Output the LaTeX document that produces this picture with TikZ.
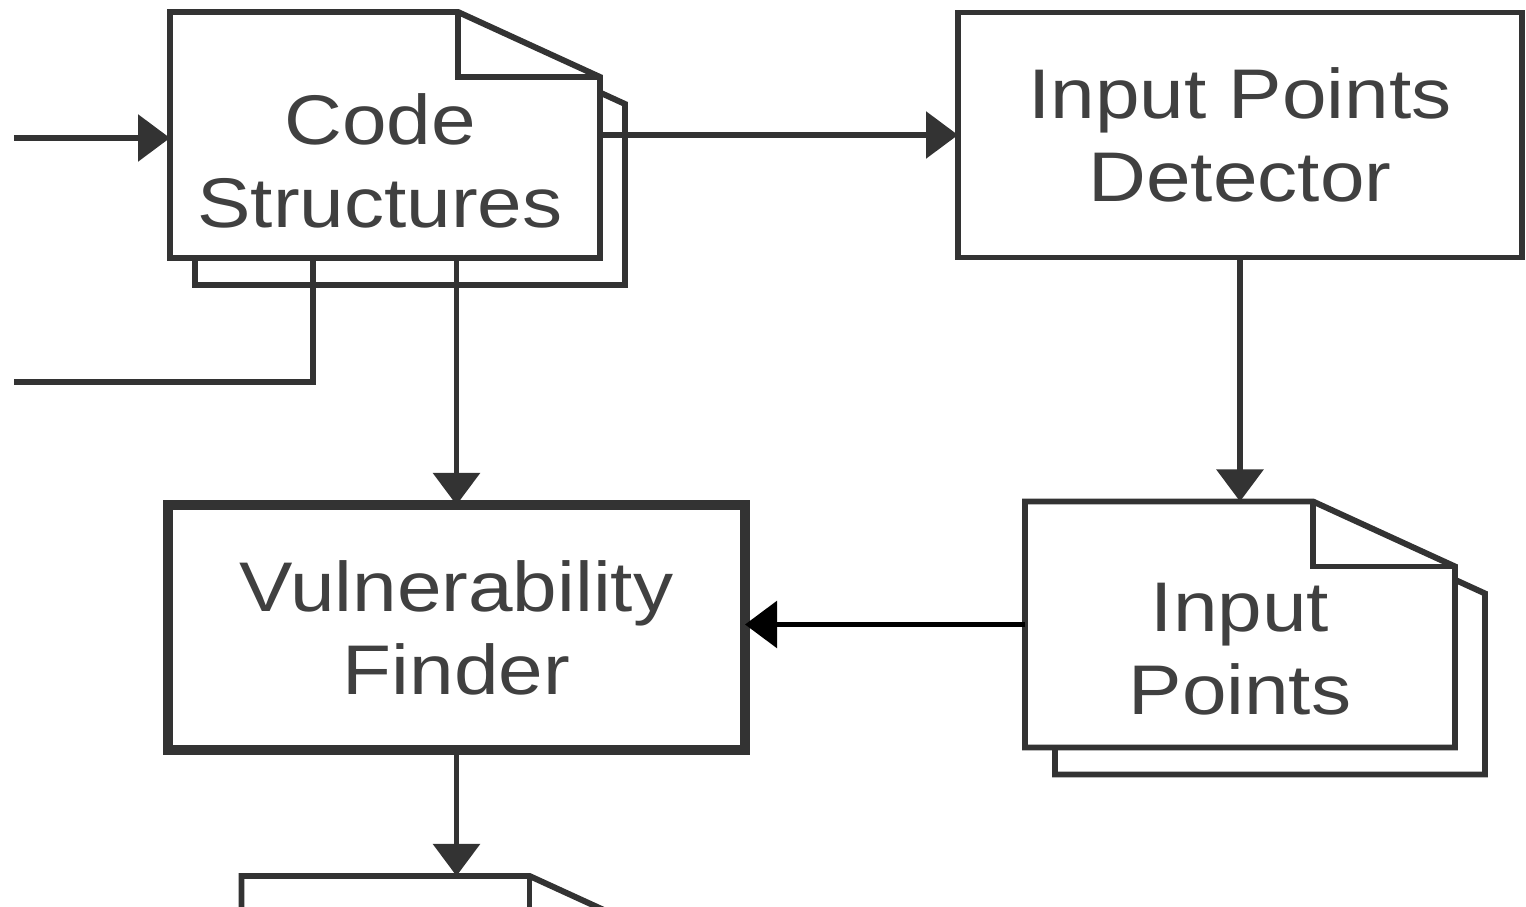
\documentclass[tikz,border=0pt]{standalone}
\usepackage{fontspec}
\setmainfont{Liberation Sans}[FakeStretch=1.14]
\usetikzlibrary{arrows.meta,positioning}

\tikzset{
  line/.style={draw=black!80, line width=1.7pt},
  arr/.style={line, -{Triangle[length=0.32cm,width=0.46cm]}},
  txt/.style={align=center, font=\fontsize{20}{23.6}\selectfont, text=black!75},
  box/.style={txt, line, fill=white, inner sep=0pt, outer sep=0pt, minimum height=2.45cm},
  doc/.style={inner sep=0pt, outer sep=0pt, minimum width=4.3cm, minimum height=2.46cm},
}

\begin{document}
\begin{tikzpicture}
\useasboundingbox (0,0) rectangle (15.26,-9.07);
\clip (0,0) rectangle (15.26,-9.07);

% blocks
\node[doc] (cs) at (3.85,-1.35) {};
\node[box, minimum width=5.64cm, right=3.58cm of cs] (det) {Input Points\\Detector};
\node[box, minimum width=5.77cm, line width=2.6pt, below=2.47cm of cs, xshift=0.715cm] (vf) {Vulnerability\\Finder};
\node[doc, below=2.44cm of det] (ip) {};
\node[doc, below=1.26cm of vf] (out) {};

% document pages
\foreach \n/\dx in {cs/0.25, ip/0.30, out/0.27} {
  \draw[line, fill=white] ([shift={(\dx,-0.27)}]\n.north west) -- ([shift={(\dx-1.42,-0.27)}]\n.north east)
    -- ([shift={(\dx,-0.92)}]\n.north east) -- ([shift={(\dx,-0.27)}]\n.south east)
    -- ([shift={(\dx,-0.27)}]\n.south west) -- cycle;
  \draw[line, fill=white] (\n.north west) -- ([xshift=-1.42cm]\n.north east)
    -- ([yshift=-0.65cm]\n.north east) -- (\n.south east) -- (\n.south west) -- cycle;
  \draw[line] ([xshift=-1.42cm]\n.north east) |- ([yshift=-0.65cm]\n.north east);
}
\node[txt] (cst) at ([shift={(-0.05,-0.26)}]cs.center) {Code\\Structures};
\node[txt] (ipt) at ([yshift=-0.245cm]ip.center) {Input\\Points};

% connectors
\coordinate (in) at (0.14,-1.38);
\coordinate (fb) at (0.14,-3.82);
\draw[arr] (in) -- (in -| cs.west);
\draw[line] ([xshift=-0.72cm]cs.south) |- (fb);
\draw[arr] (cs.east |- det.west) -- (det.west);
\draw[arr] (cs.south -| vf.north) -- (vf.north);
\draw[arr] (det.south) -- (det.south |- ip.north);
\draw[arr, draw=black] (ip.west) -- (ip.west -| vf.east);
\draw[arr] (vf.south) -- (vf.south |- out.north);

\end{tikzpicture}
\end{document}
